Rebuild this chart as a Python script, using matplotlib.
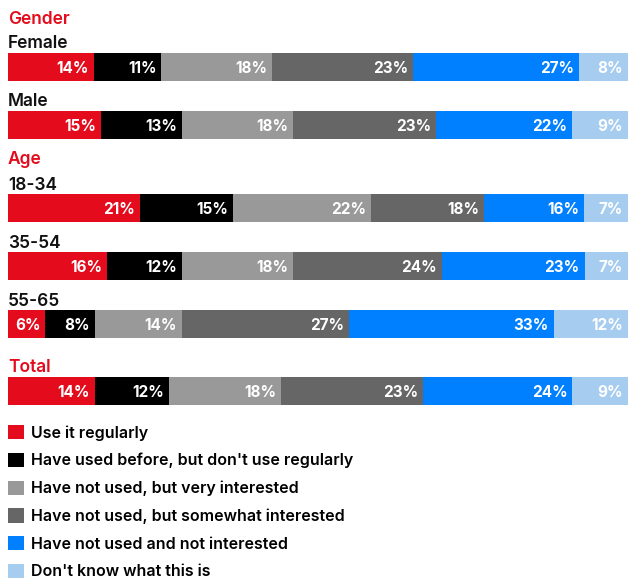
import numpy as np
import matplotlib.pyplot as plt

plt.rcParams['font.family'] = ['Inter', 'DejaVu Sans']

# data
groups = ['Gender', 'Gender', 'Age', 'Age', 'Age', 'Total']
rows = ['Female', 'Male', '18-34', '35-54', '55-65', '']
answers = ['Use it regularly',
           "Have used before, but don't use regularly",
           'Have not used, but very interested',
           'Have not used, but somewhat interested',
           'Have not used and not interested',
           "Don't know what this is"]
use_regularly = [14, 15, 21, 16, 6, 14]
used_before = [11, 13, 15, 12, 8, 12]
very_interested = [18, 18, 22, 18, 14, 18]
somewhat_interested = [23, 23, 18, 24, 27, 23]
not_interested = [27, 22, 16, 23, 33, 24]
dont_know = [8, 9, 7, 7, 12, 9]

series = [use_regularly, used_before, very_interested,
          somewhat_interested, not_interested, dont_know]
colors = ['#E30B1C', '#000000', '#999999', '#666666', '#0080FF', '#A6CDEF']
red = '#E30B1C'

W, H = 628, 578
fig = plt.figure(figsize=(W / 100, H / 100), dpi=100)
ax = fig.add_axes([8 / W, 0, (W - 8) / W, 1])
ax.set_xlim(0, 100)
ax.set_ylim(H, 0)
ax.axis('off')

# --- row layout (pixel units, y grows downwards) ---
cursor = 17
bar_y = []
prev = None
for g, r in zip(groups, rows):
    if g != prev:
        if prev is not None:
            cursor += 33 + (9 if g == 'Total' else 0)
        ax.text(0, cursor + 6.5, g, color=red, fontsize=12.5,
                fontweight='semibold', va='baseline', ha='left')
        if r:
            cursor += 25
    else:
        cursor += 33
    if r:
        ax.text(0, cursor + 6.5, r, color='#111111', fontsize=12.5,
                fontweight='semibold', va='baseline', ha='left')
    cursor += 25
    bar_y.append(cursor)
    prev = g

# --- stacked bars, normalised to full width ---
vals = np.array(series, dtype=float)
totals = vals.sum(axis=0)
left = np.zeros(len(rows))
for vs, name, c in zip(vals, answers, colors):
    width = vs / totals * 100
    cont = ax.barh(bar_y, width, left=left, height=28, color=c,
                   label=name, linewidth=0)
    texts = ax.bar_label(cont, [f'{v:.0f}%' for v in vs], padding=-3.5,
                         color='white', fontsize=11, fontweight='bold')
    for t in texts:
        t.set_ha('right')
        t.set_va('center_baseline')
    left += width

ax.legend(loc='upper left', bbox_to_anchor=(0, 425),
          bbox_transform=ax.transData, frameon=False,
          prop={'size': 11.5, 'weight': 'semibold'},
          handlelength=1.0, handleheight=1.0, handletextpad=0.45,
          labelspacing=0.76, borderpad=0, borderaxespad=0)

fig.savefig('out.png', dpi=100)
